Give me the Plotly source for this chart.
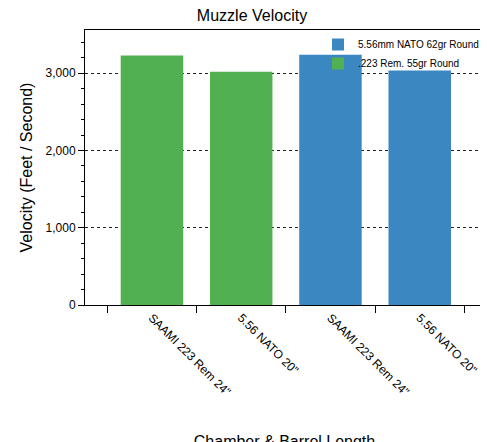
import plotly.graph_objects as go

labels = ['SAAMI 223 Rem 24"', '5.56 NATO 20"', 'SAAMI 223 Rem 24"', '5.56 NATO 20"']
rem_vel = [3230, 3020]
nato_vel = [3240, 3035]

fig = go.Figure()
fig.add_bar(x=[0, 1], y=rem_vel, name='.223 Rem. 55gr Round', marker_color='#51b151',
            marker_line_width=0, width=0.7)
fig.add_bar(x=[2, 3], y=nato_vel, name='5.56mm NATO 62gr Round', marker_color='#3a87c2',
            marker_line_width=0, width=0.7)

fig.update_layout(
    width=488, height=442, plot_bgcolor='white', paper_bgcolor='white',
    font=dict(family='Liberation Sans, Arial', color='black'),
    margin=dict(l=77, r=12, t=22, b=145, autoexpand=False),
    title=dict(text='Muzzle Velocity', x=0.5, xanchor='center', y=0.995, yanchor='top',
               font=dict(size=16)),
    showlegend=True,
    legend=dict(x=1.0, y=1.0, xanchor='right', yanchor='top', traceorder='reversed',
                font=dict(size=10), bgcolor='rgba(0,0,0,0)', itemwidth=30, tracegroupgap=0),
    bargap=0.3,
)
fig.update_xaxes(range=[-0.75, 3.72], tickvals=[0, 1, 2, 3], ticktext=labels, tickangle=45,
                 ticks='', showline=True, linecolor='black', mirror=True, showgrid=False,
                 tickfont=dict(size=12), automargin=False,
                 minor=dict(tickvals=[-0.5, 0.5, 1.5, 2.5, 3.5], ticks='outside', ticklen=7,
                            tickcolor='black', showgrid=False),
                 title=dict(text='Chamber & Barrel Length', font=dict(size=16), standoff=40))
fig.update_yaxes(range=[0, 3560], tickvals=[0, 1000, 2000, 3000], tickformat=',',
                 ticks='outside', ticklen=6, tickcolor='black', showline=True, linecolor='black',
                 mirror=True, showgrid=True, gridcolor='#222', griddash='dot', gridwidth=0.8,
                 zeroline=False, tickfont=dict(size=12), automargin=False,
                 minor=dict(dtick=200, ticks='outside', ticklen=3, tickcolor='black', showgrid=False),
                 title=dict(text='Velocity (Feet / Second)', font=dict(size=16), standoff=8))

fig.write_html('out.html')
